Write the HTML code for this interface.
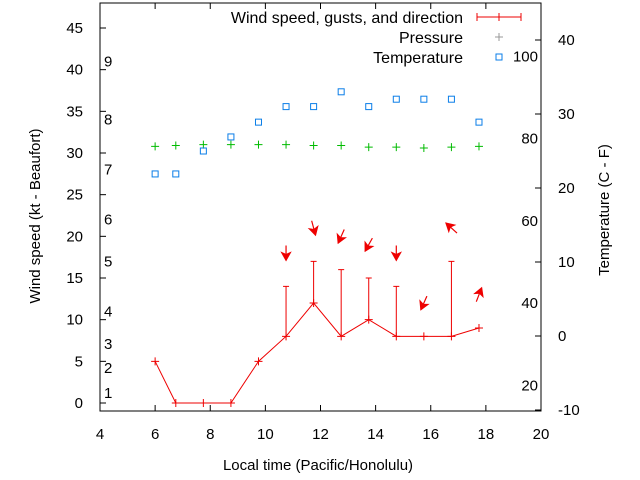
<!DOCTYPE html>
<html><head><meta charset="utf-8"><style>
html,body{margin:0;padding:0;background:#fff;}
svg{display:block;font-family:"Liberation Sans",sans-serif;}
</style></head><body>
<svg id="chart" width="640" height="480" xmlns="http://www.w3.org/2000/svg">
<rect width="640" height="480" fill="#fff"/>
<text x="318" y="470" font-size="15" text-anchor="middle">Local time (Pacific/Honolulu)</text>
<text transform="translate(40,216) rotate(-90)" font-size="15" text-anchor="middle">Wind speed (kt - Beaufort)</text>
<text transform="translate(609,210) rotate(-90)" font-size="15" text-anchor="middle">Temperature (C - F)</text>
<g>
<text x="463" y="23" font-size="16" text-anchor="end">Wind speed, gusts, and direction</text>
<line x1="477" y1="17" x2="521" y2="17" stroke="#e00"/>
<line x1="477" y1="13" x2="477" y2="21" stroke="#e00"/><line x1="499" y1="13" x2="499" y2="21" stroke="#e00"/><line x1="521" y1="13" x2="521" y2="21" stroke="#e00"/>
<text x="463" y="43" font-size="16" text-anchor="end">Pressure</text>
<path d="M495 37h8M499 33v8" stroke="#999"/>
<text x="463" y="63" font-size="16" text-anchor="end">Temperature</text>
<rect x="496" y="54" width="6" height="6" fill="none" stroke="#0a7ee8"/>
</g>
</svg>
<script>
const times=[6,6.75,7.75,8.75,9.75,10.75,11.75,12.75,13.75,14.75,15.75,16.75,17.75];
const speeds=[5,0,0,0,5,8,12,8,10,8,8,8,9];
const gusts=[null,null,null,null,null,14,17,16,15,14,null,17,null];
const arrowY=[null,null,null,null,null,18,21,20,19,18,12,21,13];
const dirs=[null,null,null,null,null,0,345,24,29,0,24,132,201];
const pressure=[30.8,30.9,31.0,31.0,31.0,31.0,30.9,30.9,30.7,30.7,30.6,30.7,30.8];
const tempC=[21.9,21.9,25,26.9,28.9,31,31,33,31,32,32,32,28.9];
const xTicks=[4,6,8,10,12,14,16,18,20];
const yTicks=[0,5,10,15,20,25,30,35,40,45];
const y2Ticks=[-10,0,10,20,30,40];
const fLabels=[20,40,60,80,100];
const bftLabels=[1,2,3,4,5,6,7,8,9];
const bftKt=[1.2,4.2,7.1,11,17,22,28,34,41];

const L=100,R=541,T=3,B=411;
const X=v=>L+(v-4)*(R-L)/16;
const Y=v=>403-v*(375/45);
const Y2=c=>336-c*7.4;
const svg=document.getElementById('chart');
const NS='http://www.w3.org/2000/svg';
function mk(t,a,p){const e=document.createElementNS(NS,t);for(const k in a)e.setAttribute(k,a[k]);(p||svg).appendChild(e);return e;}
function txt(x,y,s,anchor,name){const e=mk('text',{x:x,y:y,'font-size':15,'text-anchor':anchor});e.textContent=s;

return e;}

const frame=mk('rect',{x:L,y:T,width:R-L,height:B-T,fill:'none',stroke:'#000'});


xTicks.forEach(v=>{const x=X(v);
 mk('line',{x1:x,y1:B,x2:x,y2:B-6,stroke:'#000'});mk('line',{x1:x,y1:T,x2:x,y2:T+6,stroke:'#000'});
 txt(x,439,String(v),'middle','x-tick-label');});
yTicks.forEach(v=>{const y=Y(v);mk('line',{x1:L,y1:y,x2:L+6,y2:y,stroke:'#000'});txt(83,y+5,String(v),'end','y-tick-label');});
y2Ticks.forEach(v=>{const y=Y2(v);mk('line',{x1:R,y1:y,x2:R-6,y2:y,stroke:'#000'});txt(558,y+5,String(v),'start','y2-tick-label');});
fLabels.forEach(f=>{const c=(f-32)*5/9;txt(538,Y2(c)+5,String(f),'end','fahrenheit-label');});
bftLabels.forEach((b,i)=>txt(104,Y(bftKt[i])+5,String(b),'start','beaufort-label'));

const pts=times.map((t,i)=>X(t)+','+Y(speeds[i])).join(' ');
const wl=mk('polyline',{points:pts,fill:'none',stroke:'#e00'});


times.forEach((t,i)=>{const x=X(t),y=Y(speeds[i]);
 const m=mk('path',{d:`M${x-4} ${y}h8M${x} ${y-4}v8`,stroke:'#e00'});
 
 
 if(gusts[i]!=null){const gy=Y(gusts[i]);
  const g=mk('path',{d:`M${x} ${y}V${gy}M${x-3} ${gy}h6`,stroke:'#e00'});
  
  }
 if(dirs[i]!=null){const th=(dirs[i]+180)*Math.PI/180,dx=Math.sin(th),dy=-Math.cos(th),len=15;
  const cy=Y(arrowY[i]);const x1=x-dx*len/2,y1=cy-dy*len/2,x2=x+dx*len/2,y2=cy+dy*len/2;
  const px=-dy,py=dx;
  const a=mk('g',{});
  
  
  mk('line',{x1:x1,y1:y1,x2:x2,y2:y2,stroke:'#e00','stroke-width':1.2},a);
  mk('polygon',{points:`${x2},${y2} ${x2-dx*8+px*4.5},${y2-dy*8+py*4.5} ${x2-dx*6},${y2-dy*6} ${x2-dx*8-px*4.5},${y2-dy*8-py*4.5}`,fill:'#e00',stroke:'#e00'},a);}
});
pressure.forEach((p,i)=>{const x=X(times[i]),y=Y(p);
 const m=mk('path',{d:`M${x-4} ${y}h8M${x} ${y-4}v8`,stroke:'#0b0'});
 
 });
tempC.forEach((c,i)=>{const x=X(times[i]),y=Y2(c);
 const m=mk('rect',{x:x-3,y:y-3,width:6,height:6,fill:'none',stroke:'#0a7ee8'});
 
 });
</script>
</body></html>
